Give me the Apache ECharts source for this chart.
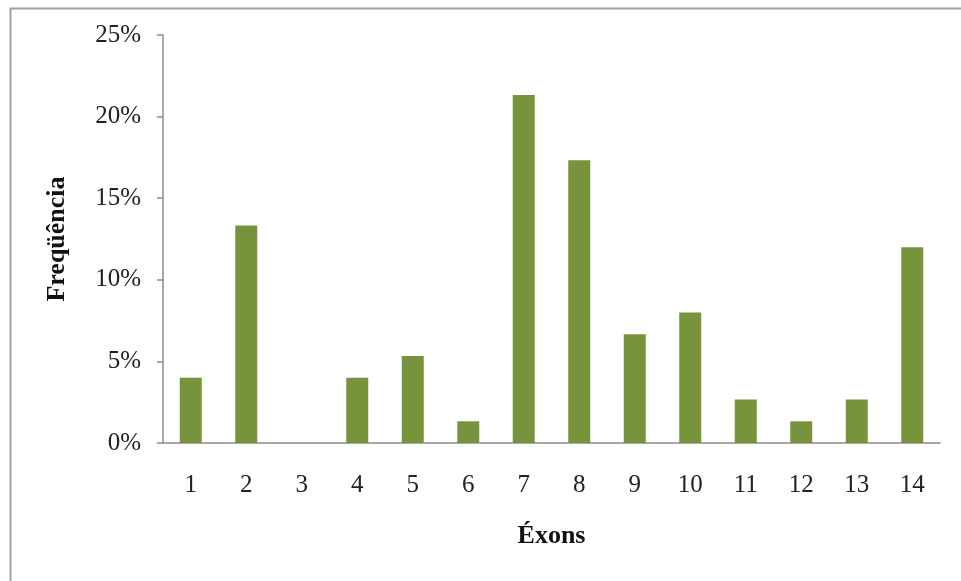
<!DOCTYPE html>
<html><head><meta charset="utf-8">
<script src="https://cdn.jsdelivr.net/npm/echarts@6/dist/echarts.min.js"></script>
<style>html,body{margin:0;padding:0;background:#fff}#c{width:961px;height:581px}</style>
</head><body><div id="c"></div>
<script>
const categories = ['1','2','3','4','5','6','7','8','9','10','11','12','13','14'];
const values = [4.00, 13.33, 0, 4.00, 5.33, 1.33, 21.33, 17.33, 6.67, 8.00, 2.67, 1.33, 2.67, 12.00];
const yTicks = [0, 5, 10, 15, 20, 25];
const xTitle = 'Éxons';
const yTitle = 'Freqüência';

const chart = echarts.init(document.getElementById('c'), null, {renderer: 'canvas'});
const font = '"Liberation Serif", "Times New Roman", serif';
chart.setOption({
  animation: false,
  backgroundColor: '#fff',
  graphic: [{
    type: 'rect', left: 8, top: 6,
    shape: {x: 0, y: 0, width: 1000, height: 620},
    style: {fill: 'none', stroke: '#a0a0a0', lineWidth: 2}
  }],
  grid: {left: 163, right: 21, top: 35, bottom: 138, containLabel: false},
  xAxis: {
    type: 'category', data: categories,
    axisLine: {lineStyle: {color: '#8c8c8c', width: 1.5}},
    axisTick: {show: false},
    axisLabel: {color: '#222', fontFamily: font, fontSize: 25, margin: 30},
    name: xTitle, nameLocation: 'middle', nameGap: 80,
    nameTextStyle: {color: '#111', fontFamily: font, fontSize: 26, fontWeight: 'bold'}
  },
  yAxis: {
    type: 'value', min: yTicks[0], max: yTicks[yTicks.length-1], interval: 5,
    axisLine: {show: true, lineStyle: {color: '#8c8c8c', width: 1.5}},
    axisTick: {show: true, length: 6, lineStyle: {color: '#8c8c8c', width: 1.5}},
    splitLine: {show: false},
    axisLabel: {color: '#222', fontFamily: font, fontSize: 25, margin: 22, formatter: v => v + '%'},
    name: yTitle, nameLocation: 'middle', nameGap: 93, nameRotate: 90,
    nameTextStyle: {color: '#111', fontFamily: font, fontSize: 26, fontWeight: 'bold'}
  },
  series: [{
    type: 'bar', data: values, barWidth: 22,
    itemStyle: {color: '#77933C'}
  }]
});
</script></body></html>
